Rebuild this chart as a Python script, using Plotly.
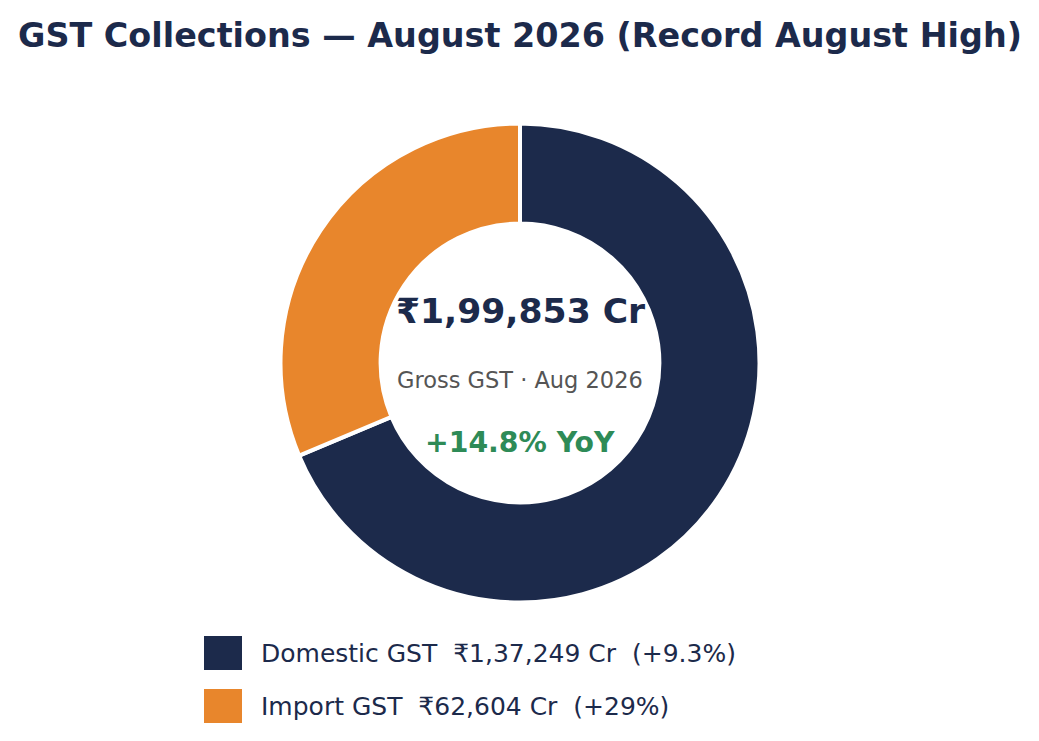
import plotly.graph_objects as go

categories = ["Domestic GST", "Import GST"]
values = [137249, 62604]
value_labels = ["₹1,37,249 Cr", "₹62,604 Cr"]
growth_labels = ["(+9.3%)", "(+29%)"]
colors = ["#1c2a4b", "#e8862c"]
total_label = "₹1,99,853 Cr"
sub_label = "Gross GST · Aug 2026"
yoy_label = "+14.8% YoY"
title = "GST Collections — August 2026 (Record August High)"

W, H = 1039, 741
OFF = 8  # page offset of the plot inside the browser window
FONT = "DejaVu Sans"
NAVY = "#1c2a4b"

cx, cy, R = 520 - OFF, 363 - OFF, 239.5


def px(x):
    return (x - OFF) / W


def py(y):
    return (H - (y - OFF)) / H


fig = go.Figure(go.Pie(
    labels=categories, values=values, hole=0.582, sort=False,
    direction="clockwise", rotation=0,
    marker=dict(colors=colors, line=dict(color="white", width=4)),
    textinfo="none", hoverinfo="label+value", showlegend=False,
    domain=dict(x=[(cx - R) / W, (cx + R) / W], y=[(H - cy - R) / H, (H - cy + R) / H]),
))

ann = [
    dict(text=f"<b>{title}</b>", x=px(520), y=py(35), font=dict(size=33.4, color=NAVY)),
    dict(text=f"<b>{total_label}</b>", x=px(520), y=py(311), font=dict(size=34.6, color=NAVY)),
    dict(text=sub_label, x=px(520), y=py(380), font=dict(size=22.5, color="#555555")),
    dict(text=f"<b>{yoy_label}</b>", x=px(520), y=py(442), font=dict(size=28.3, color="#2e8b57")),
]
shapes = []
for i, (c, v, g, col) in enumerate(zip(categories, value_labels, growth_labels, colors)):
    yc = 653 + i * 53
    shapes.append(dict(type="rect", xref="paper", yref="paper", x0=px(204), x1=px(242),
                       y0=py(yc + 17), y1=py(yc - 17), fillcolor=col, line=dict(width=0)))
    ann.append(dict(text=f"{c}  {v}  {g}", x=px(259), y=py(yc), xanchor="left",
                    font=dict(size=25, color=NAVY)))
for a in ann:
    a.update(xref="paper", yref="paper", showarrow=False, font_family=FONT)
    a.setdefault("xanchor", "center")
    a["yanchor"] = "middle"

fig.update_layout(
    width=W, height=H, margin=dict(l=0, r=0, t=0, b=0),
    paper_bgcolor="white", plot_bgcolor="white",
    font=dict(family=FONT), annotations=ann, shapes=shapes,
)
fig.write_html("out.html")
